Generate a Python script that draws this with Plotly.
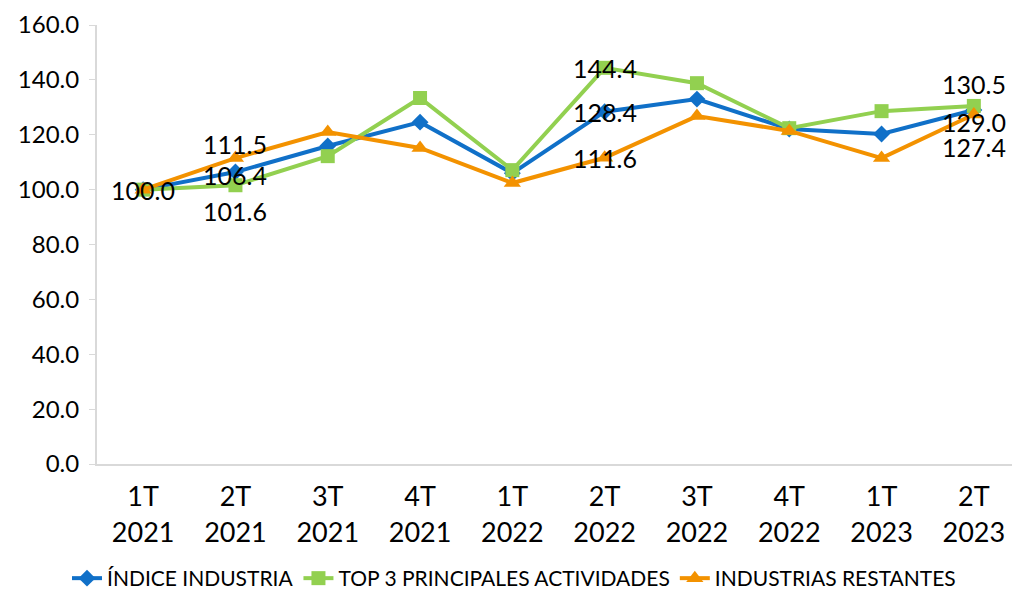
import plotly.graph_objects as go

categories = ["1T<br>2021", "2T<br>2021", "3T<br>2021", "4T<br>2021", "1T<br>2022",
              "2T<br>2022", "3T<br>2022", "4T<br>2022", "1T<br>2023", "2T<br>2023"]
indice = [100.0, 106.4, 115.9, 124.6, 106.0, 128.4, 133.0, 122.1, 120.3, 129.0]
top3 = [100.0, 101.6, 112.2, 133.4, 107.1, 144.4, 138.8, 122.4, 128.6, 130.5]
restantes = [100.0, 111.5, 121.0, 115.2, 102.4, 111.6, 126.8, 121.4, 111.5, 127.4]
y_ticks = [0, 20, 40, 60, 80, 100, 120, 140, 160]

FONT = "Lato"
x = list(range(len(categories)))

fig = go.Figure()
fig.add_trace(go.Scatter(x=x, y=indice, mode="lines+markers", name="ÍNDICE INDUSTRIA",
                         line=dict(color="#1070C8", width=4),
                         marker=dict(symbol="diamond", size=13, color="#1070C8")))
fig.add_trace(go.Scatter(x=x, y=top3, mode="lines+markers", name="TOP 3 PRINCIPALES ACTIVIDADES",
                         line=dict(color="#92D050", width=4),
                         marker=dict(symbol="square", size=14, color="#92D050")))
fig.add_trace(go.Scatter(x=x, y=restantes, mode="lines+markers", name="INDUSTRIAS RESTANTES",
                         line=dict(color="#F39200", width=4),
                         marker=dict(symbol="triangle-up", size=15, color="#F39200")))

# data labels: (series, index, yshift, xshift)
labels = [
    (indice, 0, 0, 0),
    (restantes, 1, 14, 0), (indice, 1, -3, 0), (top3, 1, -26, 0),
    (top3, 5, 0, 0), (indice, 5, 0, 0), (restantes, 5, 0, 0),
    (top3, 9, 22, 0), (indice, 9, -12, 0), (restantes, 9, -33, 0),
]
for series, i, ys, xs in labels:
    fig.add_annotation(x=x[i], y=series[i], text=f"{series[i]:.1f}", showarrow=False,
                       yshift=ys, xshift=xs, font=dict(family=FONT, size=25, color="black"))

fig.update_layout(
    width=1012, height=591,
    margin=dict(l=89, r=0, t=17, b=135, autoexpand=False),
    paper_bgcolor="white", plot_bgcolor="white",
    font=dict(family=FONT, color="black"),
    showlegend=True,
    legend=dict(orientation="h", x=0.5, xanchor="center", xref="container",
                y=0.0, yanchor="bottom", yref="container",
                font=dict(family=FONT, size=21, color="black"), itemwidth=30,
                tracegroupgap=0),
)
fig.update_xaxes(tickmode="array", tickvals=x, ticktext=categories, range=[-0.5, 9.5],
                 showgrid=False, showline=True, linecolor="#D9D9D9", linewidth=2,
                 ticks="", tickfont=dict(family=FONT, size=27, color="black"),
                 ticklabelstandoff=8,
                 zeroline=False, automargin=False)
fig.update_yaxes(range=[0, 160], tickvals=y_ticks, ticktext=[f"{v:.1f}" for v in y_ticks],
                 showgrid=False, showline=True, linecolor="#D9D9D9", linewidth=2,
                 ticks="outside", ticklen=6, tickcolor="#D9D9D9", tickwidth=1,
                 ticklabelstandoff=5,
                 tickfont=dict(family=FONT, size=24, color="black"), zeroline=False,
                 automargin=False)

fig.write_html("out.html")
